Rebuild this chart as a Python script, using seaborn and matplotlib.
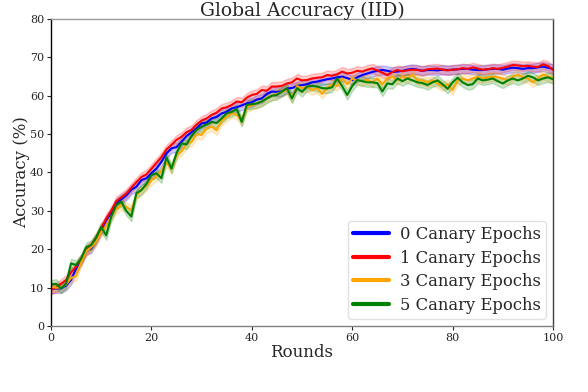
import matplotlib
matplotlib.use("Agg")
import matplotlib.pyplot as plt
import seaborn as sns
import pandas as pd
import numpy as np

# Datos (precisión global por ronda, %)
rondas = list(range(0, 101))

acc_0 = [9.7, 9.8, 9.8, 10.5, 12.0, 15.0, 17.0, 19.8, 20.2, 22.5,
         25.0, 27.5, 29.5, 32.0, 33.0, 34.0, 35.5, 36.3, 38.0, 38.5,
         39.8, 41.0, 42.8, 45.0, 46.3, 46.6, 48.0, 49.5, 50.5, 51.5,
         52.8, 53.0, 54.1, 54.5, 55.4, 55.8, 56.7, 57.0, 57.5, 58.0,
         58.3, 59.0, 59.3, 60.5, 61.1, 61.0, 61.1, 61.9, 62.0, 62.5,
         62.8, 63.0, 63.5, 63.7, 64.0, 64.3, 64.5, 64.8, 65.0, 64.6,
         64.1, 64.8, 65.4, 65.8, 66.2, 66.5, 66.7, 66.5, 66.2, 66.3,
         66.5, 66.8, 67.0, 66.8, 66.5, 66.7, 66.7, 66.6, 66.8, 66.7,
         66.8, 66.9, 67.0, 67.0, 66.8, 66.7, 66.7, 66.9, 67.0, 67.0,
         66.8, 67.1, 67.3, 67.2, 67.0, 67.2, 67.2, 67.4, 67.6, 67.3,
         67.0]

acc_1 = [9.5, 10.0, 11.0, 12.0, 14.0, 15.5, 17.5, 19.5, 21.0, 23.0,
         25.5, 28.0, 30.0, 32.5, 33.5, 34.5, 36.0, 37.5, 38.8, 39.5,
         41.0, 42.5, 44.0, 46.0, 47.2, 48.5, 49.3, 50.5, 51.1, 52.5,
         53.5, 54.1, 55.0, 55.6, 56.7, 57.0, 57.6, 58.5, 58.3, 59.5,
         60.2, 60.5, 61.5, 61.3, 62.4, 62.4, 62.6, 63.2, 63.5, 64.5,
         64.0, 64.1, 64.5, 64.7, 64.8, 65.4, 65.2, 65.6, 66.3, 65.8,
         66.0, 66.5, 66.3, 66.8, 67.1, 66.6, 66.0, 65.4, 66.2, 66.7,
         66.4, 66.6, 66.8, 66.7, 66.5, 66.9, 67.0, 67.1, 66.8, 66.6,
         66.8, 66.9, 67.2, 67.0, 67.4, 67.1, 66.8, 66.9, 67.2, 67.0,
         67.3, 67.6, 68.0, 67.9, 67.7, 67.8, 67.6, 67.5, 68.2, 67.8,
         66.7]

acc_3 = [10.2, 10.0, 10.0, 10.8, 12.5, 13.0, 16.5, 19.5, 20.5, 22.0,
         24.5, 26.0, 28.5, 30.5, 31.5, 31.0, 30.2, 34.0, 35.5, 36.5,
         38.0, 39.0, 40.5, 42.5, 41.0, 44.5, 45.5, 47.5, 48.0, 50.0,
         49.8, 51.5, 52.0, 51.0, 53.5, 54.5, 55.5, 55.0, 53.5, 57.0,
         57.5, 58.0, 58.5, 59.5, 60.0, 60.5, 61.0, 61.5, 59.5, 62.5,
         62.0, 62.3, 61.5, 62.0, 60.5, 62.0, 63.0, 62.5, 64.5, 63.0,
         64.5, 64.0, 63.8, 64.2, 63.5, 64.5, 63.0, 64.5, 65.0, 64.0,
         65.0, 64.5, 65.5, 64.0, 64.0, 63.5, 64.0, 63.2, 62.5, 63.0,
         61.5, 64.0, 64.5, 64.0, 64.5, 65.0, 64.5, 64.8, 65.0, 64.8,
         64.5, 64.0, 65.0, 65.5, 64.8, 64.5, 63.5, 64.5, 65.5, 65.0,
         64.6]

acc_5 = [10.8, 11.0, 9.8, 11.0, 16.3, 15.9, 17.5, 20.5, 21.1, 23.0,
         25.8, 23.6, 28.5, 31.5, 32.4, 30.0, 28.5, 34.6, 35.4, 37.0,
         39.3, 39.8, 38.5, 44.0, 41.0, 45.0, 47.6, 47.3, 49.5, 51.1,
         51.9, 52.5, 53.2, 52.9, 54.1, 55.4, 55.8, 56.5, 53.2, 57.6,
         57.8, 58.0, 58.5, 59.3, 60.0, 60.2, 61.1, 61.9, 59.3, 62.0,
         61.0, 62.4, 62.6, 62.4, 62.0, 61.9, 62.2, 64.5, 62.5, 60.2,
         62.5, 64.1, 63.8, 63.5, 63.5, 63.3, 61.1, 63.2, 63.0, 64.5,
         63.8, 64.5, 64.0, 63.5, 63.3, 62.8, 63.5, 64.0, 63.0, 61.8,
         63.5, 64.7, 63.5, 62.8, 63.0, 64.5, 64.0, 64.2, 64.5, 63.8,
         63.2, 64.0, 64.5, 64.0, 64.5, 65.2, 64.8, 64.0, 64.5, 64.8,
         64.3]

etiquetas = ['0 Canary Epochs', '1 Canary Epochs', '3 Canary Epochs', '5 Canary Epochs']
colores = ['blue', 'red', 'orange', 'green']
dispersion = 1.2  # semi-ancho aproximado de la banda sombreada

# Formato largo: media +/- dispersión como tres "ejecuciones"
filas = []
for etiqueta, serie in zip(etiquetas, [acc_0, acc_1, acc_3, acc_5]):
    for r, v in zip(rondas, serie):
        for d in (-dispersion, 0.0, dispersion):
            filas.append([r, v + d, etiqueta])
df = pd.DataFrame(filas, columns=['Ronda', 'Accuracy', 'Serie'])

sns.set_style('white')
plt.rcParams['font.family'] = ['DejaVu Serif']

fig = plt.figure(figsize=(5.88, 3.92), dpi=100)
ax = fig.add_axes([0.0867, 0.1684, 0.8538, 0.7831])

sns.lineplot(data=df, x='Ronda', y='Accuracy', hue='Serie',
             hue_order=etiquetas, palette=colores,
             estimator='mean', errorbar=('pi', 100),
             err_kws={'alpha': 0.2}, linewidth=1.5, ax=ax)

ax.set_xlim(0, 100)
ax.set_ylim(0, 80)
ax.set_xticks(range(0, 101, 20))
ax.set_yticks(range(0, 81, 10))
ax.tick_params(axis='both', labelsize=8, length=3, width=0.8,
               direction='out', bottom=True, left=True, pad=2)
ax.set_xlabel('Rounds', fontsize=12, labelpad=1)
ax.set_ylabel('Accuracy (%)', fontsize=12, labelpad=0)
ax.set_title('Global Accuracy (IID)', fontsize=13.5, pad=2.5)

ax.spines['left'].set_color('black')
ax.spines['bottom'].set_color('0.5')
ax.spines['top'].set_color('0.6')
ax.spines['right'].set_color('0.25')
for s in ax.spines.values():
    s.set_linewidth(1.0)

leg = ax.legend(loc='lower right', fontsize=11.8, frameon=True,
                handlelength=2.2, borderpad=0.3, labelspacing=0.4,
                handletextpad=0.67, borderaxespad=0.45)
for linea in leg.get_lines():
    linea.set_linewidth(3)
leg.get_frame().set_edgecolor('0.85')

fig.savefig('out.png', dpi=100)
